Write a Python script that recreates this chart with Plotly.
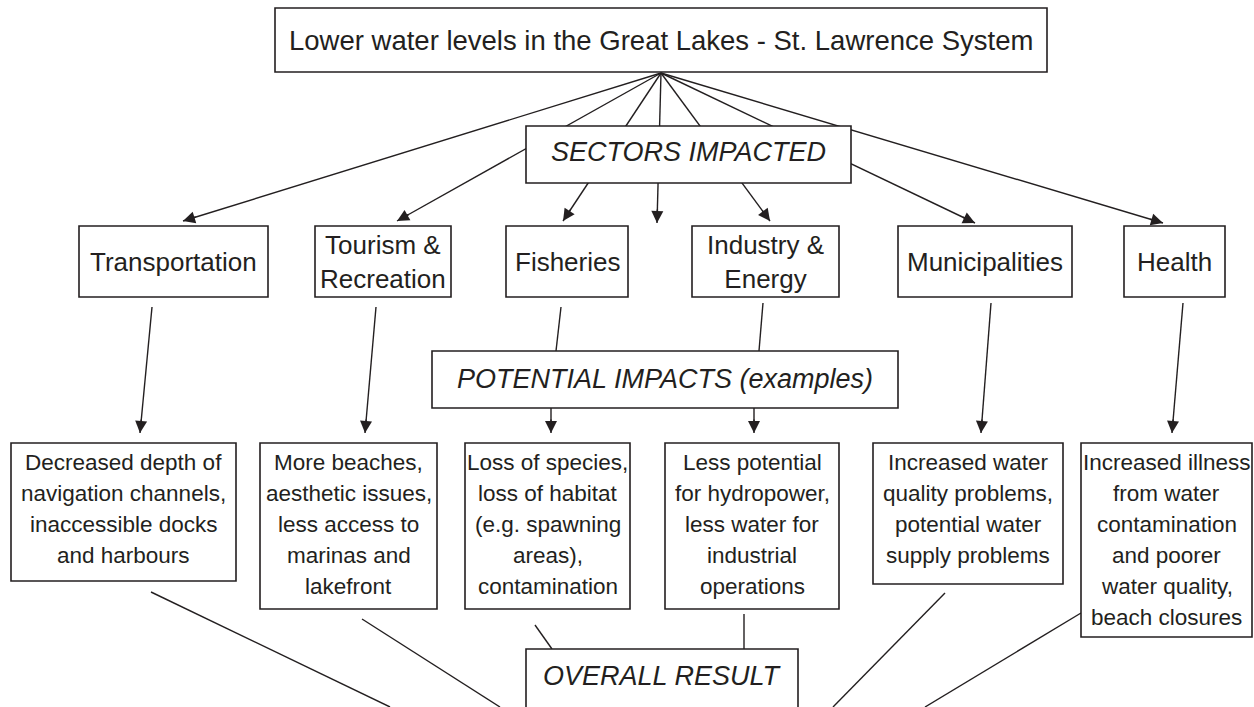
import math
import plotly.graph_objects as go

# ---------------- content ----------------
TITLE = "Lower water levels in the Great Lakes - St. Lawrence System"
SECTORS_HEADER = "SECTORS IMPACTED"
SECTORS = ["Transportation", "Tourism &<br>Recreation", "Fisheries",
           "Industry &<br>Energy", "Municipalities", "Health"]
IMPACTS_HEADER = "POTENTIAL IMPACTS (examples)"
IMPACTS = [
    ["Decreased depth of", "navigation channels,", "inaccessible docks", "and harbours"],
    ["More beaches,", "aesthetic issues,", "less access to", "marinas and", "lakefront"],
    ["Loss of species,", "loss of habitat", "(e.g. spawning", "areas),", "contamination"],
    ["Less potential", "for hydropower,", "less water for", "industrial", "operations"],
    ["Increased water", "quality problems,", "potential water", "supply problems"],
    ["Increased illness", "from water", "contamination", "and poorer",
     "water quality,", "beach closures"],
]
RESULT_HEADER = "OVERALL RESULT"

# ---------------- layout geometry (pixel space) ----------------
W, H = 1254, 707
TITLE_BOX = (275, 8, 1047, 72)
HUB = (661, 73)
SECTORS_BOX = (526, 126, 851, 183)
SECTOR_X0 = [79, 315, 506, 692, 898, 1124]
SECTOR_X1 = [268, 451, 628, 839, 1072, 1225]
SECTOR_Y0, SECTOR_Y1 = 226, 297
SECTOR_TIPS = [(183, 221), (397, 221), (563, 221), (657, 223),
               (770, 221), (975, 223), (1163, 223)]

IMPACTS_BOX = (432, 351, 898, 408)
DOWN_LINES = [((152, 307), (140, 433), True), ((376, 307), (365, 433), True),
              ((561, 307), (556, 351), False), ((763, 303), (759, 351), False),
              ((991, 303), (981, 433), True), ((1183, 303), (1172, 433), True),
              ((551, 408), (551, 433), True), ((754, 408), (754, 433), True)]

IMPACT_X0 = [11, 260, 465, 665, 873, 1081]
IMPACT_X1 = [236, 437, 630, 839, 1063, 1252]
IMPACT_Y0 = 443
IMPACT_Y1 = [581, 609, 609, 609, 584, 637]
LINE_Y0, LINE_STEP = 462, 31

RESULT_BOX = (526, 649, 798, 730)
RESULT_LINES = [((151, 592), (390, 707)), ((362, 619), (500, 707)),
                ((535, 625), (552, 649)), ((744, 614), (744, 649)),
                ((945, 593), (833, 707)), ((1081, 613), (925, 707))]

INK = "#231f20"
REG = "Liberation Sans, Arial, sans-serif"

fig = go.Figure()
shapes = []
annots = []


def seg(p, q, w=1.4):
    shapes.append(dict(type="line", x0=p[0], y0=p[1], x1=q[0], y1=q[1],
                       xref="x", yref="y", line=dict(color=INK, width=w)))


def box(b, w=1.6):
    shapes.append(dict(type="rect", x0=b[0], y0=b[1], x1=b[2], y1=b[3],
                       xref="x", yref="y", fillcolor="white",
                       line=dict(color=INK, width=w)))


def head(p, q, L=15):
    dx, dy = q[0] - p[0], q[1] - p[1]
    n = math.hypot(dx, dy)
    ux, uy = dx / n, dy / n
    annots.append(dict(x=q[0], y=q[1], ax=q[0] - ux * L, ay=q[1] - uy * L,
                       xref="x", yref="y", axref="x", ayref="y", text="",
                       showarrow=True, arrowhead=2, arrowsize=1.6,
                       arrowwidth=1.5, arrowcolor=INK, standoff=0))


def label(x, y, t, size, italic=False):
    annots.append(dict(x=x, y=y, xref="x", yref="y", showarrow=False,
                       text=("<i>%s</i>" % t) if italic else t,
                       xanchor="center", yanchor="middle",
                       font=dict(family=REG, size=size, color=INK)))


# connectors (drawn first so boxes hide them)
for tip in SECTOR_TIPS:
    seg(HUB, tip)
for p, q, arr in DOWN_LINES:
    seg(p, q)
for p, q in RESULT_LINES:
    seg(p, q)

# boxes
box(TITLE_BOX)
box(SECTORS_BOX)
for x0, x1 in zip(SECTOR_X0, SECTOR_X1):
    box((x0, SECTOR_Y0, x1, SECTOR_Y1))
box(IMPACTS_BOX)
for x0, x1, y1 in zip(IMPACT_X0, IMPACT_X1, IMPACT_Y1):
    box((x0, IMPACT_Y0, x1, y1))
box(RESULT_BOX)

# arrowheads
for tip in SECTOR_TIPS:
    head(HUB, tip)
for p, q, arr in DOWN_LINES:
    if arr:
        head(p, q)

# texts
label((TITLE_BOX[0] + TITLE_BOX[2]) / 2, 40, TITLE, 27.5)
label((SECTORS_BOX[0] + SECTORS_BOX[2]) / 2, 152, SECTORS_HEADER, 27, True)
for x0, x1, t in zip(SECTOR_X0, SECTOR_X1, SECTORS):
    label((x0 + x1) / 2, (SECTOR_Y0 + SECTOR_Y1) / 2, t, 26)
label((IMPACTS_BOX[0] + IMPACTS_BOX[2]) / 2, 379, IMPACTS_HEADER, 27, True)
for x0, x1, lines in zip(IMPACT_X0, IMPACT_X1, IMPACTS):
    for i, ln in enumerate(lines):
        label((x0 + x1) / 2, LINE_Y0 + i * LINE_STEP, ln, 22.5)
label((RESULT_BOX[0] + RESULT_BOX[2]) / 2, 676, RESULT_HEADER, 27, True)

fig.update_layout(
    width=W, height=H, margin=dict(l=0, r=0, t=0, b=0),
    paper_bgcolor="white", plot_bgcolor="white", showlegend=False,
    shapes=shapes, annotations=annots,
    xaxis=dict(range=[0, W], visible=False, fixedrange=True),
    yaxis=dict(range=[H, 0], visible=False, fixedrange=True),
)

fig.write_html("out.html", config={"displayModeBar": False},
               post_script="document.body.style.margin='0';")
